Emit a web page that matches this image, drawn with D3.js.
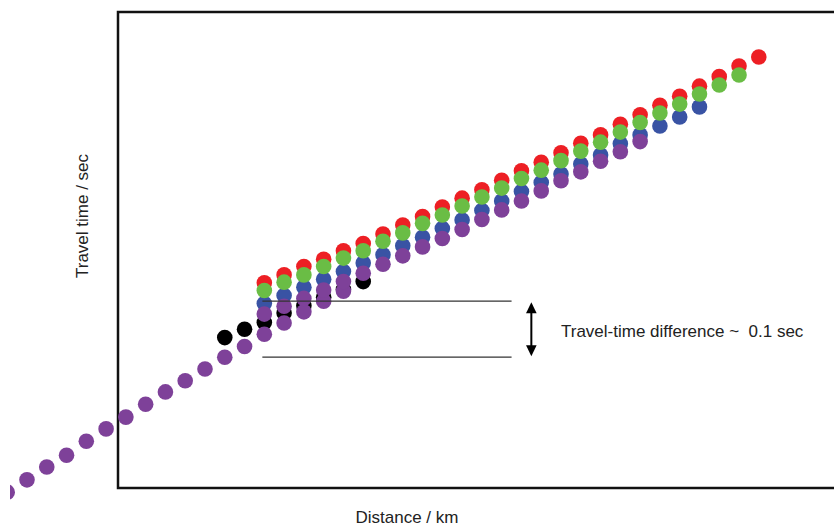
<!DOCTYPE html>
<html>
	<head>
		<title>Travel time vs distance</title>
		<style>
			body, html {
				margin: 0;
				padding: 0;
				background: #fff;
			}
			text {
				font-family: "Liberation Sans", Arial, sans-serif;
				fill: #222;
			}
		</style>
	</head>
	<body>

		<svg id="svg" width="834" height="529"></svg>

		<script src="https://d3js.org/d3.v7.min.js"></script>
		<script>
		// Distances of the stations (km), one per column of dots
		const distances = [0, 10, 20, 30, 40, 50, 60, 70, 80, 90,
			100, 110, 120, 130, 140, 150, 160, 170, 180, 190,
			200, 210, 220, 230, 240, 250, 260, 270, 280, 290,
			300, 310, 320, 330, 340, 350, 360, 370, 380]

		// Travel times (sec). Each branch starts at the distance given by its start index
		const purpleLowerStart = 0
		const purpleLower = [0.014, 0.036, 0.059, 0.080, 0.105, 0.127, 0.148, 0.171, 0.193, 0.213,
			0.234, 0.255, 0.274, 0.296, 0.316, 0.336, 0.355, 0.373]

		const blackStart = 11
		const blackTimes = [0.290, 0.305, 0.317, 0.334, 0.347, 0.362, 0.376, 0.390]

		const upperStart = 13
		const redTimes = [0.388, 0.402, 0.417, 0.430, 0.445, 0.458, 0.475, 0.491, 0.506, 0.523,
			0.539, 0.554, 0.571, 0.588, 0.603, 0.620, 0.637, 0.652, 0.671, 0.688,
			0.705, 0.721, 0.739, 0.756, 0.775, 0.791]
		const greenTimes = [0.374, 0.389, 0.402, 0.417, 0.432, 0.445, 0.462, 0.477, 0.494, 0.509,
			0.525, 0.541, 0.557, 0.574, 0.589, 0.606, 0.623, 0.639, 0.657, 0.674,
			0.691, 0.707, 0.725, 0.741, 0.759]
		const blueTimes = [0.351, 0.365, 0.380, 0.394, 0.408, 0.423, 0.438, 0.454, 0.469, 0.485,
			0.500, 0.517, 0.534, 0.551, 0.567, 0.582, 0.600, 0.616, 0.636, 0.652,
			0.668, 0.684, 0.702]
		const purpleUpper = [0.332, 0.346, 0.360, 0.375, 0.390, 0.405, 0.421, 0.436, 0.452, 0.467,
			0.483, 0.501, 0.518, 0.534, 0.552, 0.570, 0.586, 0.605, 0.622, 0.640]

		// Annotation: the two reference times and where the bracket sits
		const diffTimes = [0.355, 0.255]
		const diffFrom = 129
		const diffTo = 255
		const arrowAt = 265
		const diffLabel = 'Travel-time difference ~  0.1 sec'

		const width = 834
		const height = 529

		const svg = d3.select('#svg')

		// scales (no tick labels in this figure)
		const xscale = d3.scaleLinear()
			.domain([0, 380])
			.range([7.2, 758.8])

		const yscale = d3.scaleLinear()
			.domain([0, 1])
			.range([500, -60])

		// frame: left, top and bottom edges (the right one is off the page)
		svg.append('rect')
			.attr('x', 118)
			.attr('y', 12)
			.attr('width', 800)
			.attr('height', 476)
			.attr('fill', 'none')
			.attr('stroke', '#111')
			.attr('stroke-width', 2.5)

		// clip the dots at the left edge of the page
		svg.append('clipPath')
			.attr('id', 'page')
			.append('rect')
			.attr('x', 10)
			.attr('y', 0)
			.attr('width', width - 10)
			.attr('height', height)

		// put each branch together: [distance, time]
		function branch(start, times) {
			return times.map((t, i) => ({ d: distances[start + i], t: t }))
		}

		// drawing order matters, later ones cover earlier ones
		const series = [
			{ color: '#ed1f24', points: branch(upperStart, redTimes) },
			{ color: '#3953a4', points: branch(upperStart, blueTimes) },
			{ color: '#6abd45', points: branch(upperStart, greenTimes) },
			{ color: '#000000', points: branch(blackStart, blackTimes) },
			{ color: '#7e4199', points: branch(purpleLowerStart, purpleLower) },
			{ color: '#7e4199', points: branch(upperStart, purpleUpper) }
		]

		const dots = svg.append('g')
			.attr('clip-path', 'url(#page)')

		series.forEach(s => {
			dots.append('g')
				.selectAll('circle')
				.data(s.points)
				.join('circle')
				.attr('cx', d => xscale(d.d))
				.attr('cy', d => yscale(d.t))
				.attr('r', 7.8)
				.attr('fill', s.color)
		})

		// the two horizontal reference lines
		svg.append('g')
			.selectAll('line')
			.data(diffTimes)
			.join('line')
			.attr('x1', xscale(diffFrom))
			.attr('x2', xscale(diffTo))
			.attr('y1', d => yscale(d))
			.attr('y2', d => yscale(d))
			.attr('stroke', '#333')
			.attr('stroke-width', 1.2)

		// double headed arrow between them
		const ax = xscale(arrowAt)
		const yTop = yscale(diffTimes[0]) + 1
		const yBot = yscale(diffTimes[1]) - 1
		const head = 11
		const half = 5.3

		svg.append('line')
			.attr('x1', ax)
			.attr('x2', ax)
			.attr('y1', yTop + head - 1)
			.attr('y2', yBot - head + 1)
			.attr('stroke', '#000')
			.attr('stroke-width', 2)

		svg.append('path')
			.attr('d', `M${ax},${yTop} L${ax - half},${yTop + head} L${ax + half},${yTop + head} Z`)
			.attr('fill', '#000')

		svg.append('path')
			.attr('d', `M${ax},${yBot} L${ax - half},${yBot - head} L${ax + half},${yBot - head} Z`)
			.attr('fill', '#000')

		svg.append('text')
			.attr('x', 561)
			.attr('y', 337)
			.attr('font-size', 17)
			.style('white-space', 'pre')
			.text(diffLabel)

		// axis titles
		svg.append('text')
			.attr('transform', 'translate(88, 216) rotate(-90)')
			.attr('text-anchor', 'middle')
			.attr('font-size', 17)
			.text('Travel time / sec')

		svg.append('text')
			.attr('x', 407)
			.attr('y', 523)
			.attr('text-anchor', 'middle')
			.attr('font-size', 17)
			.text('Distance / km')
		</script>
	</body>
</html>
